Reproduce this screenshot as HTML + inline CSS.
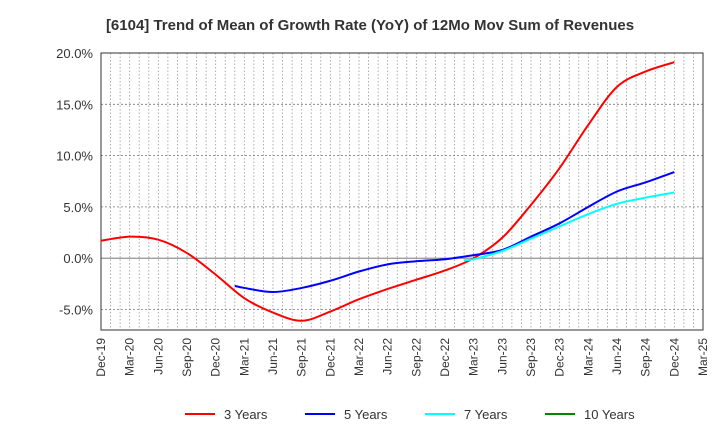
<!DOCTYPE html>
<html><head><meta charset="utf-8"><style>
body{margin:0;background:#fff;font-family:"Liberation Sans",sans-serif;}
</style></head><body>
<svg id="c" width="720" height="440" xmlns="http://www.w3.org/2000/svg">
<text x="370" y="30" text-anchor="middle" font-size="15" font-weight="bold" fill="#333">[6104]  Trend of Mean of Growth Rate (YoY) of 12Mo Mov Sum of Revenues</text>
<g id="grid"></g><g id="axes"></g><g id="series"></g><g id="legend"></g>
</svg>
<script>
const xLabels=["Dec-19","Mar-20","Jun-20","Sep-20","Dec-20","Mar-21","Jun-21","Sep-21","Dec-21","Mar-22","Jun-22","Sep-22","Dec-22","Mar-23","Jun-23","Sep-23","Dec-23","Mar-24","Jun-24","Sep-24","Dec-24","Mar-25"];
const yTicks=[-5,0,5,10,15,20];
const m3=[0,3,6,9,12,15,18,21,24,27,30,33,36,39,42,45,48,51,54,57,60];
const v3=[1.7,2.1,1.8,0.5,-1.6,-3.9,-5.3,-6.1,-5.2,-4.0,-3.0,-2.1,-1.2,0.0,2.0,5.2,8.8,13.0,16.7,18.2,19.1];
const m5=[14,15,18,21,24,27,30,33,36,39,42,45,48,51,54,57,60];
const v5=[-2.7,-2.9,-3.3,-2.9,-2.2,-1.3,-0.6,-0.3,-0.1,0.3,0.8,2.1,3.4,5.0,6.5,7.4,8.4];
const m7=[38,39,42,45,48,51,54,57,60];
const v7=[-0.2,-0.1,0.7,1.9,3.1,4.3,5.3,5.9,6.4];
const m10=[],v10=[];
const L=101,R=703,T=53,B=330,ymin=-7,ymax=20,nM=63;
const X=m=>L+m*(R-L)/nM, Y=v=>B-(v-ymin)*(B-T)/(ymax-ymin);
const NS="http://www.w3.org/2000/svg";
function mk(t,a,p){const e=document.createElementNS(NS,t);for(const k in a)e.setAttribute(k,a[k]);p.appendChild(e);return e;}
const g=document.getElementById('grid'),ax=document.getElementById('axes'),s=document.getElementById('series'),lg=document.getElementById('legend');
for(let m=1;m<nM;m++){const l=mk('line',{x1:X(m),x2:X(m),y1:T,y2:B,stroke:'#999','stroke-width':0.8,'stroke-dasharray':'1.5,2'},g);

}
yTicks.forEach(v=>{const l=mk('line',{x1:L,x2:R,y1:Y(v),y2:Y(v),stroke:v==0?'#666':'#777','stroke-width':0.8,'stroke-dasharray':v==0?'none':'2,2'},g);


const t=mk('text',{x:L-8,y:Y(v)+5,'text-anchor':'end','font-size':13,fill:'#333'},ax);t.textContent=v.toFixed(1)+'%';

});
const fr=mk('rect',{x:L,y:T,width:R-L,height:B-T,fill:'none',stroke:'#333','stroke-width':1},ax);


xLabels.forEach((lb,i)=>{const x=X(i*3);const t=mk('text',{transform:`translate(${x+4},${B+8}) rotate(-90)`,'text-anchor':'end','font-size':12,fill:'#333'},ax);t.textContent=lb;

});
function path(ms,vs){if(!ms.length)return'';const p=ms.map((m,i)=>[X(m),Y(vs[i])]);let d=`M${p[0][0]},${p[0][1]}`;
for(let i=0;i<p.length-1;i++){const p0=p[i-1]||p[i],p1=p[i],p2=p[i+1],p3=p[i+2]||p2;
d+=` C${p1[0]+(p2[0]-p0[0])/6},${p1[1]+(p2[1]-p0[1])/6} ${p2[0]-(p3[0]-p1[0])/6},${p2[1]-(p3[1]-p1[1])/6} ${p2[0]},${p2[1]}`;}return d;}
const ser=[["3 Years","#f00",m3,v3,185],["5 Years","#00f",m5,v5,305],["7 Years","#0ff",m7,v7,425],["10 Years","#080",m10,v10,545]];
ser.forEach(([n,c,ms,vs,lx])=>{if(ms.length){const p=mk('path',{d:path(ms,vs),fill:'none',stroke:c,'stroke-width':2},s);

}
const l=mk('line',{x1:lx,x2:lx+30,y1:414,y2:414,stroke:c,'stroke-width':2},lg);


const t=mk('text',{x:lx+39,y:419,'font-size':13,fill:'#333'},lg);t.textContent=n;

});
</script>
</body></html>
